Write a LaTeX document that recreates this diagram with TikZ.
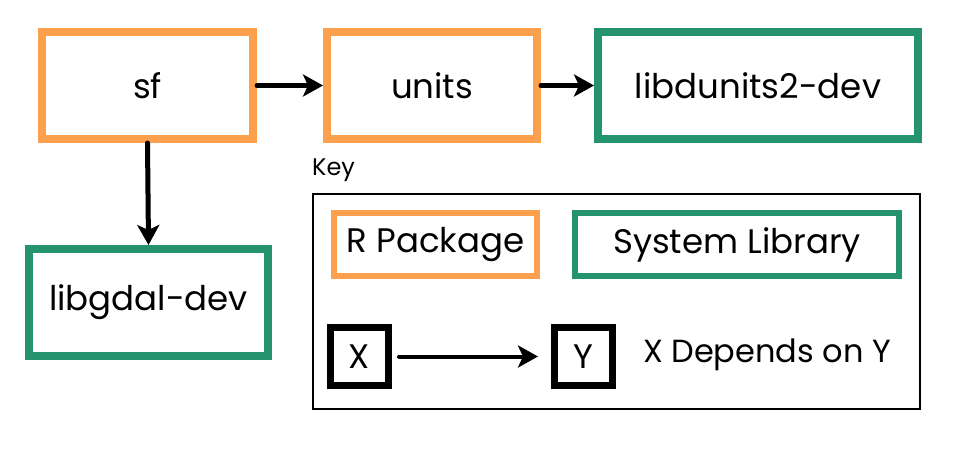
\documentclass[tikz,border=0pt]{standalone}
\usepackage{fontspec}
\setmainfont{Poppins}
\usetikzlibrary{arrows.meta}
\usetikzlibrary{positioning}
\definecolor{pkgorange}{RGB}{252,160,77}
\definecolor{libgreen}{RGB}{36,147,110}
\tikzset{
  rpkg/.style={draw=pkgorange, line width=8pt, minimum height=107pt, font=\fontsize{34}{40}\selectfont},
  syslib/.style={draw=libgreen, line width=8pt, minimum height=107pt, font=\fontsize{34}{40}\selectfont},
  dep/.style={line width=5pt, line cap=round, -{Stealth[length=20pt,width=22pt,inset=5pt]}},
  keytext/.style={font=\fontsize{34}{40}\selectfont, inner sep=0pt}
}
\begin{document}
\begin{tikzpicture}[x=1pt,y=-1pt]
\useasboundingbox (0,0) rectangle (957,463);
\node[rpkg, minimum width=211pt] (sf) at (147.5,85.5) {sf};
\node[rpkg, minimum width=210pt] (units) at (432,85.5) {units};
\node[syslib, minimum width=320pt] (udunits) at (758,85.5) {libdunits2-dev};
\node[syslib, minimum width=239pt] (gdal) at (148.5,302.5) {libgdal-dev};
\draw[dep] (sf) -- (units);
\draw[dep] (units) -- (udunits);
\draw[dep] (sf.south) -- (gdal.north);
% key
\node[anchor=west, font=\fontsize{24}{28}\selectfont, inner sep=0pt] (keylabel) at (312,170) {Key};
\draw[line width=2pt] (313,194) rectangle (920,409);
\node[draw=pkgorange, line width=6pt, minimum width=203pt, minimum height=63pt, keytext] (keypkg) at (435.5,244.5) {R Package};
\node[draw=libgreen, line width=6pt, minimum width=324pt, minimum height=63pt, keytext] (keylib) at (737,244.5) {System Library};
\node[draw, line width=7pt, minimum size=58pt, keytext] (keyx) at (359.5,356.5) {X};
\node[draw, line width=7pt, minimum size=58pt, keytext] (keyy) at (583.5,356.5) {Y};
\draw[dep, line width=4pt, shorten <=7pt, shorten >=13pt] (keyx) -- (keyy);
\node[font=\fontsize{32}{38}\selectfont] (keydep) at (767,355) {X Depends on Y};
\end{tikzpicture}
\end{document}
